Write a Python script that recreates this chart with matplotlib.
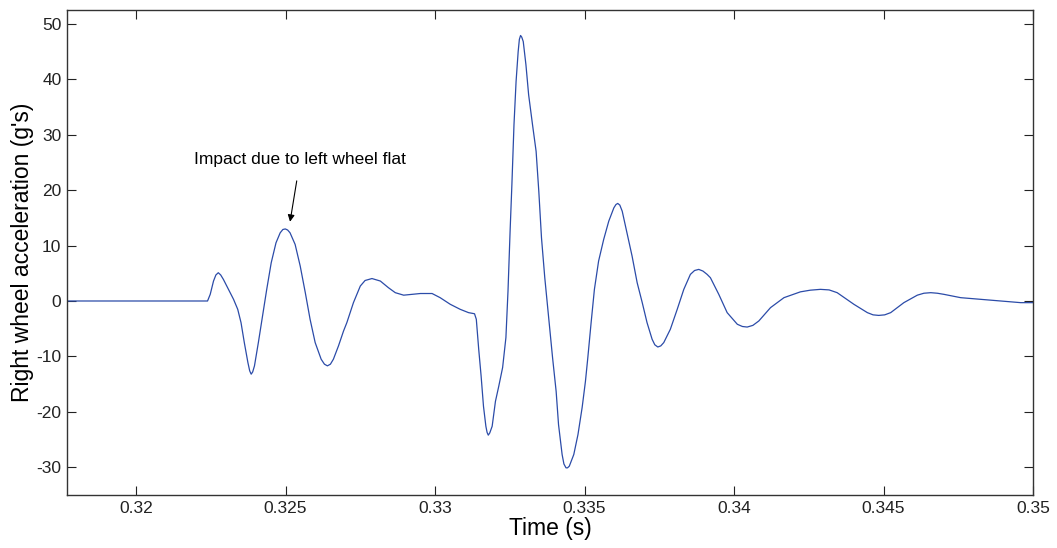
import matplotlib
matplotlib.use("Agg")
import matplotlib.pyplot as plt
from matplotlib.ticker import FormatStrFormatter

plt.rcParams["font.family"] = ["Liberation Sans", "DejaVu Sans"]
plt.rcParams["axes.unicode_minus"] = False

# digitised signal: time (s) and right wheel acceleration (g's)
time_s = [
    0.31769, 0.32239, 0.32248, 0.32259, 0.32267, 0.32275, 0.32283, 0.32292, 0.32309, 0.32326,
    0.32340, 0.32351, 0.32362, 0.32374, 0.32380, 0.32385, 0.32390, 0.32396, 0.32409, 0.32423,
    0.32437, 0.32452, 0.32468, 0.32482, 0.32491, 0.32499, 0.32507, 0.32515, 0.32532, 0.32549,
    0.32566, 0.32582, 0.32599, 0.32619, 0.32630, 0.32640, 0.32650, 0.32660, 0.32677, 0.32694,
    0.32705, 0.32727, 0.32750, 0.32766, 0.32789, 0.32817, 0.32844, 0.32867,
    0.32895, 0.32923, 0.32951, 0.32990, 0.33017, 0.33051, 0.33084, 0.33112,
    0.33132, 0.33138, 0.33146, 0.33154, 0.33162, 0.33170, 0.33174, 0.33178, 0.33183, 0.33191,
    0.33202, 0.33213, 0.33226, 0.33237, 0.33244, 0.33251, 0.33257, 0.33264,
    0.33271, 0.33278, 0.33282, 0.33286, 0.33290, 0.33295, 0.33304, 0.33313, 0.33326, 0.33338,
    0.33347, 0.33356, 0.33367, 0.33380, 0.33393, 0.33405, 0.33413, 0.33425, 0.33431,
    0.33438, 0.33443, 0.33449, 0.33464, 0.33478, 0.33492, 0.33503, 0.33511, 0.33522,
    0.33533, 0.33547, 0.33564, 0.33581, 0.33598, 0.33605, 0.33611, 0.33618, 0.33626, 0.33642,
    0.33659, 0.33676, 0.33693, 0.33709, 0.33726, 0.33735, 0.33745, 0.33755, 0.33765, 0.33787,
    0.33810, 0.33832, 0.33854, 0.33868, 0.33882, 0.33896, 0.33910, 0.33921, 0.33949, 0.33977,
    0.34011, 0.34028, 0.34044, 0.34063, 0.34083, 0.34122, 0.34167, 0.34222, 0.34255, 0.34289,
    0.34318, 0.34345, 0.34401, 0.34446, 0.34465, 0.34484, 0.34504, 0.34524, 0.34568, 0.34613,
    0.34635, 0.34658, 0.34680, 0.34702, 0.34758, 0.34825, 0.34892, 0.34959, 0.35000,
]
accel_g = [
    0.0, 0.0, 1.2, 3.6, 4.7, 5.1, 4.7, 3.9, 2.1, 0.3,
    -1.5, -3.9, -7.5, -11.1, -12.6, -13.2, -12.8, -11.7, -7.5, -2.7,
    2.1, 6.9, 10.5, 12.3, 12.9, 13.0, 12.8, 12.3, 10.2, 6.3,
    1.5, -3.3, -7.5, -10.5, -11.4, -11.7, -11.4, -10.5, -8.1, -5.4,
    -3.9, -0.3, 2.7, 3.7, 4.05, 3.6, 2.4, 1.5,
    1.05, 1.2, 1.35, 1.35, 0.6, -0.6, -1.5, -2.1,
    -2.3, -3.3, -8.7, -13.5, -19.0, -22.6, -23.7, -24.2, -23.8, -22.6,
    -18.1, -15.4, -12.0, -6.6, 1.8, 12.6, 21.0, 31.8,
    39.6, 45.0, 47.2, 47.9, 47.6, 46.8, 42.6, 37.2, 31.8, 27.0,
    19.8, 11.4, 4.2, -3.0, -10.2, -16.3, -22.3, -27.7, -29.4,
    -30.1, -30.1, -29.8, -27.7, -24.1, -19.2, -14.5, -10.2, -3.9,
    2.1, 7.2, 11.1, 14.4, 16.8, 17.4, 17.6, 17.3, 16.2, 12.3,
    8.1, 3.3, -0.3, -3.9, -6.9, -7.9, -8.3, -8.1, -7.5, -5.1,
    -1.5, 2.1, 4.8, 5.5, 5.7, 5.4, 4.8, 4.2, 1.2, -2.1,
    -4.2, -4.6, -4.7, -4.4, -3.6, -1.2, 0.6, 1.65, 1.95, 2.1,
    2.0, 1.5, -0.6, -2.1, -2.5, -2.6, -2.5, -2.1, -0.3, 1.05,
    1.4, 1.5, 1.4, 1.2, 0.6, 0.3, 0.0, -0.3, -0.3,
]

x_ticks = [0.32, 0.325, 0.33, 0.335, 0.34, 0.345, 0.35]
y_ticks = [-30, -20, -10, 0, 10, 20, 30, 40, 50]

note_text = "Impact due to left wheel flat"
note_tip = (0.32515, 14.3)
note_pos = (0.32549, 25.5)

fig = plt.figure(figsize=(10.57, 5.48), dpi=100)
ax = fig.add_axes([0.0634, 0.0967, 0.9139, 0.8851])

ax.plot(time_s, accel_g, color="#2b4ba8", linewidth=0.9)

ax.set_xlim(0.31769, 0.35)
ax.set_ylim(-35, 52.5)
ax.set_xticks(x_ticks)
ax.set_yticks(y_ticks)
ax.xaxis.set_major_formatter(FormatStrFormatter("%g"))

ax.tick_params(direction="in", length=6.5, width=0.8, labelsize=12.5,
               top=True, right=True, colors="#222222", pad=4)
for sp in ax.spines.values():
    sp.set_color("#333333")
    sp.set_linewidth(1.0)

ax.set_xlabel("Time (s)", fontsize=16.5, labelpad=1)
ax.set_ylabel("Right wheel acceleration (g's)", fontsize=16.5, labelpad=2)

ax.annotate(note_text, xy=note_tip, xytext=note_pos, fontsize=12.5,
            ha="center", va="center",
            arrowprops=dict(arrowstyle="-|>", color="black", lw=0.8,
                            shrinkA=8, shrinkB=0, mutation_scale=10))

fig.savefig("out.png", dpi=100)
